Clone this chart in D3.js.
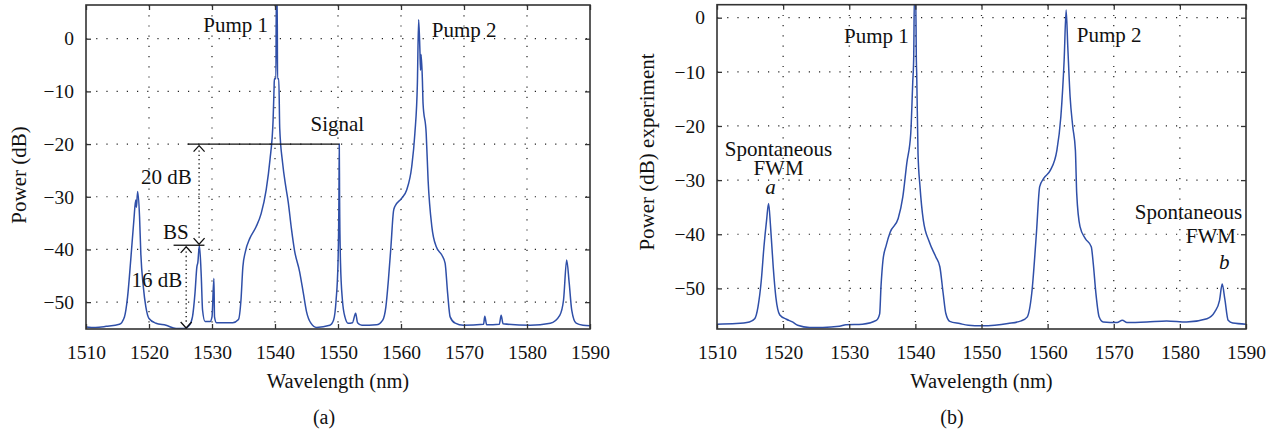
<!DOCTYPE html>
<html>
<head>
<meta charset="utf-8">
<script src="https://cdn.jsdelivr.net/npm/d3@7"></script>
<style>
  body { margin: 0; background: #fff; }
  text { font-family: "Liberation Serif", "Times New Roman", serif; fill: #111; }
</style>
</head>
<body>
<svg id="chart" width="1277" height="435"></svg>
<script>
// wavelength ticks (nm) and power ticks (dB)
const xTicks = [1510, 1520, 1530, 1540, 1550, 1560, 1570, 1580, 1590];
const yTicks = [0, -10, -20, -30, -40, -50];

// (a) measured spectrum [wavelength nm, power dB]
const spectrumA = [
  [1510, -54.7], [1511.5, -54.8], [1513.2, -54.6], [1515.3, -54.2], [1516.1, -52.8],
  [1516.6, -49.0], [1517.1, -42.0], [1517.6, -34.4], [1517.9, -30.6], [1518.0, -32.0],
  [1518.2, -29.0], [1518.5, -33.8], [1518.7, -40.7], [1519.1, -47.1], [1519.5, -50.9],
  [1520.0, -53.1], [1521.1, -54.0], [1522.7, -54.4], [1524.3, -55.0], [1525.6, -55.0],
  [1526.4, -54.4], [1526.9, -52.8], [1527.3, -48.3], [1527.6, -43.3], [1527.75, -42.5],
  [1528.0, -39.2], [1528.3, -45.2], [1528.5, -51.5], [1528.9, -53.7], [1529.7, -53.7],
  [1530.0, -52.8], [1530.3, -45.5], [1530.4, -52.8], [1530.7, -53.9], [1533.3, -53.9],
  [1534.2, -53.3], [1534.6, -49.6], [1534.9, -43.3], [1535.3, -40.4], [1536.0, -37.9],
  [1537.0, -35.7], [1537.8, -33.2], [1538.6, -28.7], [1539.2, -23.0], [1539.7, -15.4],
  [1539.85, -9.4], [1539.9, -7.6], [1540.15, -7.6], [1540.2, 8], [1540.35, 8],
  [1540.4, -7.6], [1540.6, -7.6], [1540.75, -17.0], [1541.2, -23.5], [1541.7, -28.0],
  [1542.1, -31.0], [1542.6, -36.0], [1543.1, -40.2], [1543.9, -44.2], [1544.5, -48.3],
  [1545.0, -51.8], [1545.7, -54.0], [1546.6, -54.8], [1548.7, -54.4], [1549.3, -53.4],
  [1549.7, -49.6], [1550.0, -42.6], [1550.15, -30.0], [1550.2, -20.0], [1550.25, -30.0],
  [1550.4, -42.6], [1550.7, -49.6], [1551.1, -52.8], [1551.6, -54.0], [1552.3, -53.9],
  [1552.8, -52.1], [1553.1, -53.9], [1553.8, -54.4], [1556.1, -54.3], [1557.1, -53.4],
  [1557.6, -50.9], [1558.0, -45.8], [1558.4, -39.5], [1558.8, -32.8], [1559.0, -31.9],
  [1560.1, -30.3], [1560.9, -28.7], [1561.7, -24.3], [1562.2, -18.0], [1562.6, -8.5],
  [1562.8, 3.6], [1563.0, -2.1], [1563.1, -6.0], [1563.2, -3.0], [1563.4, -8.0],
  [1563.5, -12.3], [1564.0, -18.0], [1564.3, -26.8], [1564.9, -35.7], [1565.6, -39.5],
  [1566.5, -41.1], [1567.0, -42.6], [1567.4, -48.3], [1567.8, -52.8], [1568.6, -54.0],
  [1569.9, -54.4], [1573.1, -54.2], [1573.3, -52.7], [1573.6, -54.3], [1575.6, -54.2],
  [1575.9, -52.5], [1576.2, -54.1], [1580.5, -54.4], [1583.7, -54.0], [1585.2, -52.5],
  [1585.8, -49.6], [1586.3, -42.0], [1586.7, -46.4], [1587.1, -51.5], [1587.8, -54.0],
  [1588.9, -54.4], [1590, -54.5]
];

// (b) experiment spectrum
const spectrumB = [
  [1510, -56.6], [1512.9, -56.5], [1514.9, -56.2], [1515.7, -55.6], [1516.2, -53.4],
  [1516.7, -48.5], [1517.1, -42.3], [1517.5, -37.4], [1517.8, -34.3], [1518.1, -38.6],
  [1518.5, -46.0], [1518.9, -51.6], [1519.5, -54.9], [1520.5, -55.7], [1521.4, -56.2],
  [1522.2, -56.8], [1524.0, -57.2], [1526.0, -57.2], [1528.5, -57.0], [1529.5, -56.7],
  [1532.0, -56.6], [1534.1, -55.9], [1534.6, -54.7], [1534.8, -49.7], [1535.1, -44.8],
  [1535.6, -42.0], [1536.2, -39.6], [1537.4, -37.1], [1538.1, -33.1], [1538.7, -26.9],
  [1539.3, -21.4], [1539.6, -12.0], [1539.75, -7.2], [1539.85, 4], [1540.05, 4],
  [1540.15, -8.0], [1540.2, -10.3], [1540.4, -25.1], [1540.7, -31.2], [1541.2, -37.4],
  [1542.1, -41.4], [1543.1, -44.2], [1543.7, -46.0], [1544.2, -50.9], [1544.6, -54.6],
  [1545.2, -56.1], [1546.7, -56.5], [1548, -56.8], [1550, -56.9], [1552, -56.8],
  [1554, -56.5], [1556, -56.0], [1556.9, -55.3], [1557.6, -50.9], [1558.3, -39.9],
  [1558.8, -31.2], [1559.4, -29.7], [1560.4, -28.2], [1561.4, -24.5], [1562.0, -18.3],
  [1562.5, -7.8], [1562.8, 1.4], [1563.05, -5.4], [1563.4, -14.6], [1563.8, -20.1],
  [1564.2, -24.5], [1564.4, -32.5], [1564.9, -38.6], [1565.7, -40.8], [1566.6, -42.3],
  [1566.9, -45.4], [1567.3, -50.9], [1567.8, -55.3], [1568.4, -56.2], [1570.5, -56.3],
  [1571.3, -55.9], [1572, -56.3], [1575, -56.2], [1578, -56.0], [1581, -56.2],
  [1584.1, -55.6], [1585.3, -54.3], [1586.0, -52.2], [1586.4, -49.2], [1586.8, -52.0],
  [1587.3, -55.9], [1588, -56.4], [1590, -56.6]
];

// annotation texts: [text, wavelength, dB, anchor, italic]
const labelsA = [
  ["Pump 1", 1538.9, 1.2, "end", false],
  ["Pump 2", 1564.9, 0.4, "start", false],
  ["Signal", 1549.9, -17.5, "middle", false],
  ["20 dB", 1526.8, -27.6, "end", false],
  ["BS", 1526.3, -38.0, "end", false],
  ["16 dB", 1525.3, -47.1, "end", false]
];
const labelsB = [
  ["Pump 1", 1539.0, -4.6, "end", false],
  ["Pump 2", 1564.4, -4.4, "start", false],
  ["Spontaneous", 1519.3, -25.6, "middle", false],
  ["FWM", 1519.3, -29.1, "middle", false],
  ["a", 1518.1, -32.6, "middle", true],
  ["Spontaneous", 1581.3, -37.1, "middle", false],
  ["FWM", 1584.7, -41.7, "middle", false],
  ["b", 1586.7, -46.5, "middle", true]
];

const svg = d3.select("#chart");
const lineColor = "#2f4fa8";
const minus = (d) => (d < 0 ? "\u2212" + Math.abs(d) : "" + d);

function drawPanel(o) {
  const x = d3.scaleLinear().domain([1510, 1590]).range([o.left, o.right]);
  const y = d3.scaleLinear().domain(o.yDomain).range([o.bottom, o.top]);
  const g = svg.append("g");

  // dotted grid
  g.append("g").selectAll("line").data(xTicks.slice(1, -1)).join("line")
    .attr("x1", (d) => x(d)).attr("x2", (d) => x(d))
    .attr("y1", o.top).attr("y2", o.bottom)
    .attr("stroke", "#222").attr("stroke-width", 1.2).attr("stroke-dasharray", "1.2,9");
  g.append("g").selectAll("line").data(yTicks).join("line")
    .attr("x1", o.left).attr("x2", o.right)
    .attr("y1", (d) => y(d)).attr("y2", (d) => y(d))
    .attr("stroke", "#222").attr("stroke-width", 1.2).attr("stroke-dasharray", "1.2,9");

  // spectrum
  const clipId = "clip" + o.id;
  svg.append("clipPath").attr("id", clipId).append("rect")
    .attr("x", o.left).attr("y", o.top)
    .attr("width", o.right - o.left).attr("height", o.bottom - o.top);
  g.append("path").datum(o.data)
    .attr("clip-path", `url(#${clipId})`)
    .attr("fill", "none").attr("stroke", lineColor).attr("stroke-width", 1.5)
    .attr("stroke-linejoin", "round")
    .attr("d", d3.line().curve(d3.curveMonotoneX).x((d) => x(d[0])).y((d) => y(d[1])));

  // axes, ticks inward
  g.append("g").attr("transform", `translate(0,${o.bottom})`)
    .call(d3.axisBottom(x).tickValues(xTicks).tickSize(-5).tickPadding(16.5).tickFormat(d3.format("d")));
  g.append("g").attr("transform", `translate(${o.left},0)`)
    .call(d3.axisLeft(y).tickValues(yTicks).tickSize(-5).tickPadding(12).tickFormat(minus));
  g.append("g").attr("transform", `translate(0,${o.top})`)
    .call(d3.axisTop(x).tickValues(xTicks).tickSize(-5).tickFormat(""));
  g.append("g").attr("transform", `translate(${o.right},0)`)
    .call(d3.axisRight(y).tickValues(yTicks).tickSize(-5).tickFormat(""));
  g.selectAll(".domain").remove();
  g.selectAll(".tick line").attr("stroke", "#333").attr("stroke-width", 1.3);
  g.selectAll(".tick text").style("font-size", "19.5px").attr("fill", "#111")
    .style("font-family", '"Liberation Serif", serif');

  g.append("rect").attr("x", o.left).attr("y", o.top)
    .attr("width", o.right - o.left).attr("height", o.bottom - o.top)
    .attr("fill", "none").attr("stroke", "#333").attr("stroke-width", 1.6);

  // axis titles
  g.append("text").attr("x", (o.left + o.right) / 2).attr("y", 388).attr("text-anchor", "middle")
    .style("font-size", "20.5px").text("Wavelength (nm)");
  g.append("text").attr("transform", `translate(${o.yTitleX},${o.yTitleY}) rotate(-90)`)
    .attr("text-anchor", "middle").style("font-size", "21px").text(o.yTitle);
  g.append("text").attr("x", o.capX).attr("y", 424).attr("text-anchor", "middle")
    .style("font-size", "20px").text(o.caption);

  // annotation labels
  g.selectAll("text.ann").data(o.labels).join("text").attr("class", "ann")
    .attr("x", (d) => x(d[1])).attr("y", (d) => y(d[2]))
    .attr("text-anchor", (d) => d[3])
    .style("font-style", (d) => (d[4] ? "italic" : "normal"))
    .style("font-size", "21px").text((d) => d[0]);

  return { g, x, y };
}

const a = drawPanel({
  id: "a", left: 86, right: 590, top: 5, bottom: 329, yDomain: [-55.1, 6.4],
  data: spectrumA, labels: labelsA, yTitle: "Power (dB)",
  yTitleX: 26, yTitleY: 175, capX: 324, caption: "(a)"
});
drawPanel({
  id: "b", left: 717, right: 1246, top: 4.7, bottom: 329, yDomain: [-57.5, 2.4],
  data: spectrumB, labels: labelsB, yTitle: "Power (dB) experiment",
  yTitleX: 654, yTitleY: 152, capX: 952, caption: "(b)"
});

// (a) level-difference markers
const ax = a.x, ay = a.y, ag = a.g;
const black = (sel) => sel.attr("fill", "none").attr("stroke", "#111").attr("stroke-width", 1.3);
// signal level line at -20 dB
black(ag.append("line").attr("x1", ax(1526.1)).attr("x2", ax(1550.2))
  .attr("y1", ay(-20)).attr("y2", ay(-20)));
// BS level line
black(ag.append("line").attr("x1", ax(1523.9)).attr("x2", ax(1528.8))
  .attr("y1", ay(-39.2)).attr("y2", ay(-39.2)));
// dotted measure lines
black(ag.append("line").attr("x1", ax(1527.95)).attr("x2", ax(1527.95))
  .attr("y1", ay(-21.2)).attr("y2", ay(-38.3)).attr("stroke-dasharray", "1.3,3"));
black(ag.append("line").attr("x1", ax(1525.9)).attr("x2", ax(1525.9))
  .attr("y1", ay(-40.4)).attr("y2", ay(-54.2)).attr("stroke-dasharray", "1.3,3"));
// chevrons: [wavelength, dB tip, direction]
const chevrons = [[1527.95, -20.3, 1], [1527.95, -39.0, -1], [1525.9, -39.5, 1], [1525.9, -54.9, -1]];
chevrons.forEach(([w, p, dir]) => {
  const cx = ax(w), cy = ay(p);
  black(ag.append("path").attr("d", `M${cx - 5.5},${cy + dir * 6}L${cx},${cy}L${cx + 5.5},${cy + dir * 6}`));
});
</script>
</body>
</html>
